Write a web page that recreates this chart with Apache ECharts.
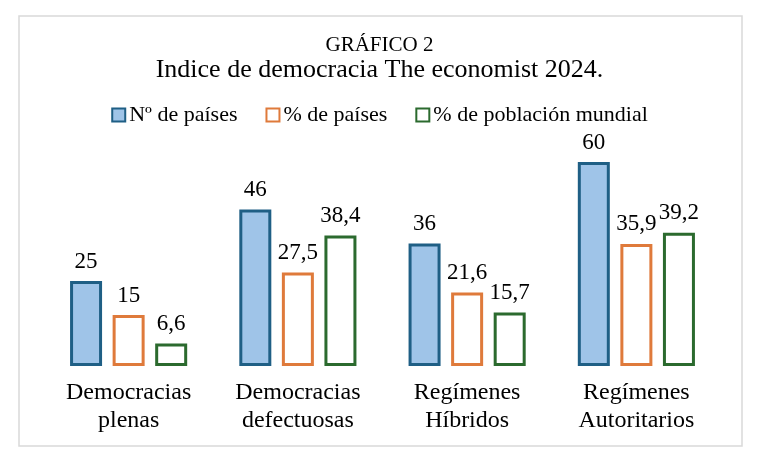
<!DOCTYPE html>
<html>
<head>
    <meta charset="utf-8">
    <title>Indice de democracia 2024</title>
    <script type="text/javascript" src="https://cdn.jsdelivr.net/npm/echarts@6/dist/echarts.min.js"></script>
    <style>
        html, body { margin: 0; padding: 0; background: #fff; }
    </style>
</head>
<body>
<div id="chart" style="width:759px;height:462px;"></div>

<script type="text/javascript">
    // categorias y valores
    var categorias = ['Democracias\nplenas', 'Democracias\ndefectuosas', 'Regímenes\nHíbridos', 'Regímenes\nAutoritarios'];
    var nPaises = [25, 46, 36, 60];
    var pctPaises = [15, 27.5, 21.6, 35.9];
    var pctPoblacion = [6.6, 38.4, 15.7, 39.2];
    var nombres = ['Nº de países', '% de países', '% de población mundial'];

    var fuente = '"Liberation Serif", "Times New Roman", serif';

    function etiqueta(v) {
        return String(v.value).replace('.', ',');
    }

    function serie(nombre, datos, relleno, borde) {
        return {
            name: nombre,
            type: 'bar',
            data: datos,
            barWidth: 32,
            barGap: '33%',
            itemStyle: {
                color: relleno,
                borderColor: borde,
                borderWidth: 3
            },
            label: {
                show: true,
                position: 'top',
                distance: 8,
                color: '#000',
                fontFamily: fuente,
                fontSize: 23,
                formatter: etiqueta
            }
        };
    }

    var myChart = echarts.init(document.getElementById('chart'));
    var option = {
        backgroundColor: '#fff',
        animation: false,
        title: {
            text: 'GRÁFICO 2',
            subtext: 'Indice de democracia The economist 2024.',
            left: 'center',
            top: 30,
            itemGap: 1,
            textStyle: { fontFamily: fuente, fontSize: 21, fontWeight: 'normal', color: '#000' },
            subtextStyle: { fontFamily: fuente, fontSize: 26, color: '#000' }
        },
        legend: {
            data: nombres,
            top: 99,
            left: 'center',
            itemWidth: 13,
            itemHeight: 13,
            itemGap: 28,
            icon: 'rect',
            textStyle: { fontFamily: fuente, fontSize: 22, color: '#000', padding: [0, 0, 0, -1] }
        },
        graphic: [{
            type: 'rect',
            shape: { x: 19, y: 16, width: 723, height: 430 },
            style: { fill: 'none', stroke: '#d9d9d9', lineWidth: 1.5 },
            silent: true
        }],
        grid: { left: 44, right: 38, top: 128, bottom: 96 },
        xAxis: {
            type: 'category',
            data: categorias,
            axisLine: { show: false },
            axisTick: { show: false },
            axisLabel: {
                fontFamily: fuente,
                fontSize: 24,
                lineHeight: 28,
                color: '#000',
                margin: 13
            }
        },
        yAxis: {
            type: 'value',
            min: 0,
            max: 70,
            show: false
        },
        series: [
            serie(nombres[0], nPaises, '#9fc4e8', '#1f5f85'),
            serie(nombres[1], pctPaises, '#ffffff', '#df7a3b'),
            serie(nombres[2], pctPoblacion, '#ffffff', '#2b6a2e')
        ]
    };
    myChart.setOption(option);
</script>
</body>
</html>
